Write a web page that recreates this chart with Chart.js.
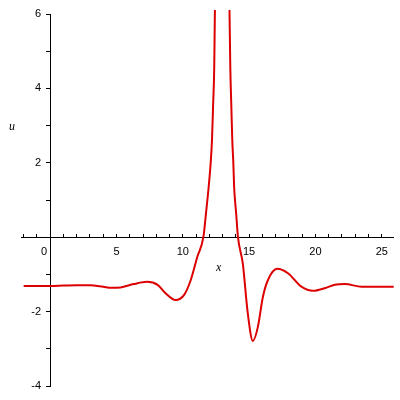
<!DOCTYPE html>
<html>
<head>
<meta charset="utf-8">
<script src="https://cdn.jsdelivr.net/npm/chart.js@4/dist/chart.umd.min.js"></script>
<style>
  html, body { margin: 0; padding: 0; background: #fff; }
  #wrap { width: 400px; height: 400px; }
</style>
</head>
<body>
<div id="wrap"><canvas id="chart"></canvas></div>
<script>
// curve (x, u)
const xValues = [-2, -1, 0, 1, 2, 3, 4, 4.6, 5.3, 6.3, 7.3, 8.1, 8.7, 9.45, 10.1, 10.6, 11.1, 11.55,
  11.75, 11.95, 12.1, 12.2, 12.28, 12.37, 12.42, 12.6, 12.95, 13.3, 13.52, 13.58, 13.66, 13.73,
  13.81, 13.87, 14.02, 14.16, 14.52, 14.9, 15.28, 15.66, 16.04, 16.42, 17.12, 17.93, 18.94,
  19.83, 20.7, 21.46, 22.22, 23.48, 24.75, 26];
const uValues = [-1.31, -1.31, -1.31, -1.30, -1.29, -1.29, -1.33, -1.36, -1.35, -1.26, -1.20, -1.28,
  -1.51, -1.69, -1.55, -1.15, -0.52, 0.0, 0.65, 1.35, 1.99, 2.61, 3.5, 4.58, 6.1, 9, 14, 9, 6.1,
  4.58, 3.5, 2.61, 1.99, 1.35, 0.65, 0.0, -0.70, -2.05, -2.79, -2.41, -1.60, -1.15, -0.85, -0.97,
  -1.33, -1.44, -1.37, -1.28, -1.26, -1.33, -1.33, -1.33];

// tick labels
const xTickLabels = [0, 5, 10, 15, 20, 25];
const yTickLabels = [-4, -2, 2, 4, 6];

const points = xValues.map((x, i) => ({ x: x, y: uValues[i] }));

const tickFont = { family: 'Liberation Sans', size: 11 };

// axis names, placed with the scales
const axisNames = {
  id: 'axisNames',
  afterDraw(chart) {
    const { ctx, scales } = chart;
    ctx.save();
    ctx.font = 'italic 12px "Liberation Serif"';
    ctx.fillStyle = '#000';
    ctx.textAlign = 'center';
    ctx.textBaseline = 'middle';
    ctx.fillText('x', scales.x.getPixelForValue(12.7), scales.y.getPixelForValue(0) + 31);
    ctx.fillText('u', chart.chartArea.left - 9, scales.y.getPixelForValue(2.96));
    ctx.restore();
  }
};

new Chart(document.getElementById('chart'), {
  type: 'scatter',
  data: {
    datasets: [{
      data: points,
      showLine: true,
      borderColor: '#dd0000',
      borderWidth: 2,
      pointRadius: 0,
      cubicInterpolationMode: 'monotone',
      clip: { left: 0, top: 4, right: 0, bottom: 0 }
    }]
  },
  options: {
    responsive: true,
    maintainAspectRatio: false,
    animation: false,
    layout: { padding: { left: 21, right: 4, top: 14, bottom: 14 } },
    plugins: {
      legend: { display: false },
      tooltip: { enabled: false }
    },
    scales: {
      x: {
        type: 'linear',
        position: { y: 0 },
        min: -2.2,
        max: 25.9,
        grid: { drawOnChartArea: false, tickLength: -4, tickColor: '#000' },
        border: { color: '#000', width: 1 },
        ticks: {
          stepSize: 1,
          includeBounds: false,
          autoSkip: false,
          maxRotation: 0,
          color: '#000',
          font: tickFont,
          padding: 12,
          callback: v => xTickLabels.includes(v) ? (v === 0 ? '0    ' : String(v)) : ''
        }
      },
      y: {
        type: 'linear',
        position: { x: 0 },
        min: -4,
        max: 6,
        grid: { drawOnChartArea: false, tickLength: 4, tickColor: '#000' },
        border: { color: '#000', width: 1 },
        ticks: {
          stepSize: 1,
          includeBounds: false,
          autoSkip: false,
          color: '#000',
          font: tickFont,
          padding: 5,
          callback: v => yTickLabels.includes(v) ? String(v) + '   ' : ''
        }
      }
    }
  },
  plugins: [axisNames]
});
</script>
</body>
</html>
